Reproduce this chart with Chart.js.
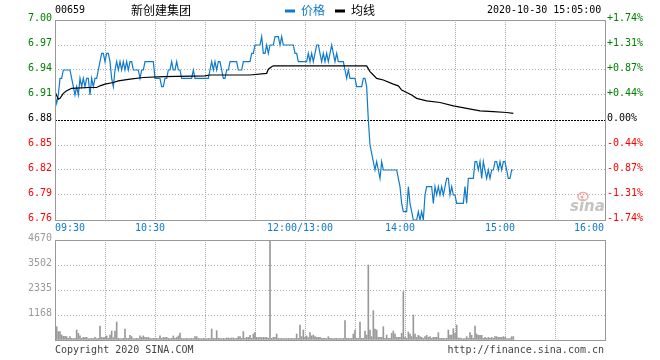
<!DOCTYPE html>
<html><head><meta charset="utf-8">
<script src="https://cdn.jsdelivr.net/npm/chart.js@4/dist/chart.umd.min.js"></script>
<style>
html,body{margin:0;padding:0;background:#fff;}
#wrap{position:relative;width:660px;height:360px;}
canvas{position:absolute;left:0;top:0;}
</style></head><body>
<div id="wrap"><canvas id="price" width="660" height="360"></canvas><canvas id="vol" width="660" height="360"></canvas></div>
<script>
const stockCode = '00659';
const stockName = '新创建集团';
const legendPrice = '价格';
const legendAvg = '均线';
const stamp = '2020-10-30 15:05:00';
const prevClose = 6.88;
const priceTicks = [6.76, 6.79, 6.82, 6.85, 6.88, 6.91, 6.94, 6.97, 7.00];
const priceTickLabels = ['6.76','6.79','6.82','6.85','6.88','6.91','6.94','6.97','7.00'];
const pctTickLabels = ['-1.74%','-1.31%','-0.87%','-0.44%','0.00%','+0.44%','+0.87%','+1.31%','+1.74%'];
const timeTicks = [0,30,60,90,120,150,180,210,240,270,300,330];
const timeLabelAt = [0,60,150,210,270,330];
const timeLabels = ['09:30','10:30','12:00/13:00','14:00','15:00','16:00'];
const volTicks = [0,1167.5,2335,3502.5,4670];
const volTickLabels = ['','1168','2335','3502','4670'];
const pmStart = 150;

// morning minutes 09:30..11:59
const amPrice = [
6.91,6.90,6.91,6.93,6.93,6.94,6.94,6.94,6.94,6.94,
6.93,6.92,6.91,6.92,6.91,6.93,6.92,6.93,6.92,6.93,
6.93,6.91,6.93,6.92,6.93,6.93,6.94,6.95,6.96,6.96,
6.95,6.96,6.96,6.95,6.93,6.92,6.94,6.95,6.94,6.95,
6.94,6.95,6.94,6.95,6.94,6.95,6.95,6.94,6.94,6.94,
6.94,6.93,6.94,6.94,6.95,6.95,6.95,6.95,6.95,6.95,
6.93,6.93,6.93,6.93,6.92,6.92,6.93,6.93,6.94,6.94,
6.95,6.94,6.94,6.95,6.94,6.94,6.93,6.93,6.93,6.93,
6.93,6.93,6.93,6.94,6.93,6.93,6.93,6.93,6.93,6.93,
6.93,6.93,6.93,6.94,6.95,6.94,6.95,6.94,6.95,6.95,
6.94,6.93,6.93,6.94,6.94,6.95,6.95,6.95,6.95,6.95,
6.94,6.94,6.94,6.95,6.95,6.95,6.95,6.95,6.96,6.96,
6.97,6.97,6.97,6.97,6.98,6.96,6.96,6.97,6.96,6.97,
6.97,6.97,6.98,6.98,6.98,6.97,6.98,6.97,6.97,6.97,
6.97,6.97,6.97,6.97,6.96,6.96,6.95,6.95,6.95,6.95];
// afternoon minutes 13:00..15:05
const pmPrice = [
6.95,6.95,6.96,6.95,6.96,6.95,6.96,6.97,6.97,6.96,
6.95,6.96,6.95,6.96,6.95,6.96,6.97,6.96,6.95,6.96,
6.95,6.95,6.95,6.95,6.94,6.93,6.94,6.93,6.93,6.93,
6.93,6.92,6.92,6.92,6.92,6.93,6.93,6.92,6.88,6.85,
6.84,6.83,6.82,6.83,6.82,6.81,6.83,6.82,6.82,6.82,
6.82,6.82,6.82,6.82,6.82,6.82,6.81,6.80,6.78,6.77,
6.77,6.77,6.80,6.78,6.77,6.76,6.76,6.76,6.77,6.76,
6.77,6.76,6.79,6.80,6.80,6.80,6.80,6.78,6.80,6.79,
6.80,6.79,6.80,6.79,6.80,6.81,6.81,6.79,6.80,6.79,
6.79,6.78,6.78,6.78,6.78,6.78,6.80,6.78,6.81,6.81,
6.81,6.81,6.83,6.83,6.82,6.83,6.81,6.83,6.82,6.81,
6.82,6.81,6.82,6.82,6.83,6.83,6.82,6.83,6.82,6.83,
6.83,6.82,6.81,6.81,6.82,6.82];
// average price line, read at these minute positions
const avgMinute = [0,2,3,5,7,10,20,25,27,30,35,38,45,53,65,90,93,117,127,128,130,131,187,189,191,193,197,203,206,208,211,214,217,223,231,239,247,255,263,271,275];
const avgValue  = [6.914,6.905,6.906,6.912,6.915,6.918,6.919,6.919,6.921,6.923,6.925,6.927,6.929,6.931,6.932,6.933,6.934,6.934,6.936,6.941,6.944,6.945,6.945,6.938,6.934,6.930,6.928,6.923,6.921,6.916,6.913,6.910,6.906,6.903,6.901,6.897,6.894,6.891,6.890,6.889,6.888];

const amVolume = [
300,623,390,390,233,170,170,156,78,156,
78,62,78,467,311,190,78,125,110,125,
62,62,78,62,125,62,78,654,125,110,
125,190,78,233,420,110,420,840,78,62,
62,78,514,78,78,218,156,62,62,78,
62,190,125,190,125,110,125,78,62,78,
62,78,62,190,78,125,110,125,78,62,
78,190,78,125,190,327,78,62,62,78,
62,62,78,62,156,156,78,62,62,78,
62,62,78,62,514,78,78,436,78,78,
62,78,62,95,95,78,95,95,62,78,
156,156,78,390,78,125,125,218,78,280,
358,125,110,125,110,125,110,125,78,4670,
78,125,125,280,78,62,78,62,78,62,
78,62,78,62,78,280,78,700,156,467];
const pmVolume = [
125,190,110,342,190,233,156,125,125,125,
78,78,78,62,156,78,78,62,78,78,
62,78,62,78,903,78,78,62,78,280,
467,78,78,840,78,78,420,233,3502,467,
156,1370,514,467,125,125,125,623,78,233,
78,78,311,420,280,125,125,125,311,2258,
125,78,374,280,156,1168,280,125,218,156,
125,78,156,218,125,156,78,125,125,125,
342,78,78,78,62,78,467,233,233,530,
311,700,95,95,62,62,62,156,78,342,
218,78,654,280,218,218,218,78,125,78,
125,78,125,78,156,156,125,125,125,156,
125,62,62,62,156,156];

const pricePts = amPrice.map((v,i)=>({x:i,y:v})).concat(pmPrice.map((v,i)=>({x:pmStart+i,y:v})));
const avgPts = avgMinute.map((m,i)=>({x:m,y:avgValue[i]}));
const volPts = amVolume.map((v,i)=>({x:i,y:v})).concat(pmVolume.map((v,i)=>({x:pmStart+i,y:v})));

const BLUE = '#0f7acb', GREEN = '#008000', RED = '#ff0000', GRID = '#aaaaaa', FRAME = '#999999';
const MONO = '10px "DejaVu Sans Mono", monospace';
const CJK = '12px "Noto Sans CJK SC", sans-serif';

function txt(ctx, s, x, y, color, align, font) {
  ctx.font = font; ctx.fillStyle = color; ctx.textAlign = align; ctx.textBaseline = 'alphabetic';
  ctx.fillText(s, x, y);
}
function near(a, b) { return Math.abs(a - b) < 1e-6; }

const pricePlugin = {
  id: 'pricePlugin',
  beforeDatasetsDraw(chart) {
    const {ctx, chartArea: a, scales: {y}} = chart;
    const py = Math.round(y.getPixelForValue(prevClose)) + 0.5;
    ctx.save(); ctx.strokeStyle = '#000'; ctx.lineWidth = 1; ctx.setLineDash([2,1]);
    ctx.beginPath(); ctx.moveTo(a.left, py); ctx.lineTo(a.right, py); ctx.stroke(); ctx.restore();
  },
  afterDraw(chart) {
    const {ctx, chartArea: a, scales: {x, y}} = chart;
    ctx.save();
    ctx.strokeStyle = FRAME; ctx.lineWidth = 1;
    ctx.strokeRect(a.left + 0.5, a.top + 0.5, a.right - a.left, a.bottom - a.top);
    priceTicks.forEach((v, i) => {
      const py = Math.round(y.getPixelForValue(v));
      const col = v > prevClose + 1e-9 ? GREEN : (v < prevClose - 1e-9 ? RED : '#000');
      txt(ctx, priceTickLabels[i], a.left - 3, py + 1, col, 'right', MONO);
      txt(ctx, pctTickLabels[i], a.right + 2, py + 1, col, 'left', MONO);
    });
    timeLabelAt.forEach((t, i) => {
      const px = x.getPixelForValue(t);
      let align = 'center', xx = px - 5;
      if (i === 0) { align = 'left'; xx = px; }
      if (i === timeLabelAt.length - 1) { align = 'right'; xx = px - 1; }
      txt(ctx, timeLabels[i], xx, a.bottom + 11, BLUE, align, MONO);
    });
    // header
    txt(ctx, stockCode, a.left, 13, '#000', 'left', MONO);
    txt(ctx, stockName, 131, 14.5, '#000', 'left', CJK);
    ctx.fillStyle = BLUE; ctx.fillRect(285, 9.5, 10, 3);
    txt(ctx, legendPrice, 301, 14.5, BLUE, 'left', CJK);
    ctx.fillStyle = '#000'; ctx.fillRect(335, 9.5, 10, 3);
    txt(ctx, legendAvg, 351, 14.5, '#000', 'left', CJK);
    txt(ctx, stamp, 487, 13, '#000', 'left', MONO);
    // sina watermark
    ctx.strokeStyle = '#f3a7a7'; ctx.lineWidth = 1.5;
    ctx.beginPath(); ctx.ellipse(583, 196.5, 5, 4, 0, 0, Math.PI * 2); ctx.stroke();
    ctx.fillStyle = '#f3a7a7'; ctx.beginPath(); ctx.arc(582, 197, 1.6, 0, Math.PI * 2); ctx.fill();
    txt(ctx, 'sina', 570, 211, '#c4c4c4', 'left', 'italic bold 15px "DejaVu Sans", sans-serif');
    ctx.restore();
  }
};

const volPlugin = {
  id: 'volPlugin',
  afterDraw(chart) {
    const {ctx, chartArea: a, scales: {y}} = chart;
    ctx.save();
    ctx.strokeStyle = FRAME; ctx.lineWidth = 1;
    ctx.strokeRect(a.left + 0.5, a.top + 0.5, a.right - a.left, a.bottom - a.top);
    volTicks.forEach((v, i) => {
      if (!volTickLabels[i]) return;
      const py = Math.round(y.getPixelForValue(v));
      txt(ctx, volTickLabels[i], a.left - 3, py + 1, '#999', 'right', MONO);
    });
    txt(ctx, 'Copyright 2020 SINA.COM', a.left, 353, '#444', 'left', MONO);
    txt(ctx, 'http://finance.sina.com.cn', a.right - 1, 353, '#444', 'right', MONO);
    ctx.restore();
  }
};

function gridColor(edges) {
  return (c) => (c.tick && edges.some(e => near(c.tick.value, e))) ? 'rgba(0,0,0,0)' : GRID;
}

new Chart(document.getElementById('price'), {
  type: 'line',
  data: { datasets: [
    { data: avgPts, borderColor: '#000', borderWidth: 1.2, pointRadius: 0, tension: 0, fill: false },
    { data: pricePts, borderColor: BLUE, borderWidth: 1.2, pointRadius: 0, tension: 0, fill: false }
  ]},
  options: {
    responsive: false, animation: false, devicePixelRatio: 1, events: [],
    layout: { padding: { left: 55, right: 55, top: 20, bottom: 140 } },
    plugins: { legend: { display: false }, tooltip: { enabled: false } },
    scales: {
      x: { type: 'linear', min: 0, max: 330,
           afterBuildTicks: s => { s.ticks = timeTicks.map(v => ({ value: v })); },
           ticks: { display: false }, grid: { drawTicks: false, color: gridColor([0, 330]), lineWidth: 1 },
           border: { display: false, dash: [1, 1] } },
      y: { type: 'linear', min: 6.76, max: 7.00,
           afterBuildTicks: s => { s.ticks = priceTicks.map(v => ({ value: v })); },
           ticks: { display: false }, grid: { drawTicks: false, color: gridColor([6.76, 7.00, prevClose]), lineWidth: 1 },
           border: { display: false, dash: [1, 2] } }
    }
  },
  plugins: [pricePlugin]
});

new Chart(document.getElementById('vol'), {
  type: 'bar',
  data: { datasets: [ { data: volPts, backgroundColor: '#999999', borderWidth: 0, barThickness: 1 } ] },
  options: {
    responsive: false, animation: false, devicePixelRatio: 1, events: [],
    layout: { padding: { left: 55, right: 55, top: 240, bottom: 20 } },
    plugins: { legend: { display: false }, tooltip: { enabled: false } },
    scales: {
      x: { type: 'linear', min: 0, max: 330, offset: false,
           afterBuildTicks: s => { s.ticks = timeTicks.map(v => ({ value: v })); },
           ticks: { display: false }, grid: { offset: false, drawTicks: false, color: gridColor([0, 330]), lineWidth: 1 },
           border: { display: false, dash: [1, 1] } },
      y: { type: 'linear', min: 0, max: 4670,
           afterBuildTicks: s => { s.ticks = volTicks.map(v => ({ value: v })); },
           ticks: { display: false }, grid: { drawTicks: false, color: gridColor([0, 4670]), lineWidth: 1 },
           border: { display: false, dash: [1, 2] } }
    }
  },
  plugins: [volPlugin]
});
</script>
</body></html>
